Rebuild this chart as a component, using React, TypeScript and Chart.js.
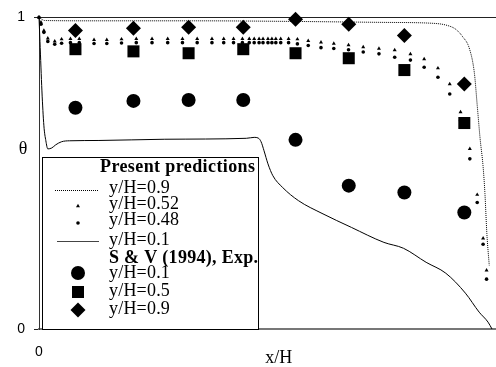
import React, { useEffect, useRef } from 'react';
import { Chart, registerables } from 'chart.js';

Chart.register(...registerables);

// ---- data (x = x/H, y = theta) ----
const expX = [0.76, 1.97, 3.12, 4.26, 5.35, 6.46, 7.62, 8.87];
const expTheta01 = [0.71, 0.732, 0.735, 0.735, 0.607, 0.46, 0.438, 0.374];
const expTheta05 = [0.898, 0.891, 0.885, 0.898, 0.885, 0.869, 0.831, 0.661];
const expTheta09 = [0.958, 0.965, 0.968, 0.968, 0.994, 0.978, 0.942, 0.786];

const predX09 = [0, 0.12, 1.25, 3.3, 5.35, 7.19, 8.22, 8.52, 8.69, 8.83, 8.98, 9.08, 9.14, 9.2, 9.26, 9.3, 9.34, 9.39];
const predTheta09 = [1, 0.99, 0.989, 0.989, 0.987, 0.984, 0.981, 0.974, 0.962, 0.939, 0.898, 0.821, 0.716, 0.61, 0.524, 0.435, 0.307, 0.204];

const predXMid = [0, 0.041, 0.102, 0.184, 0.328, 0.471, 0.656, 0.84, 1.148, 1.414, 1.721, 2.029, 2.357, 2.684, 2.992, 3.299, 3.607, 3.852, 4.057, 4.242, 4.385, 4.488, 4.59, 4.672, 4.775, 4.857, 4.939, 5.041, 5.205, 5.389, 5.615, 5.881, 6.148, 6.455, 6.762, 7.09, 7.418, 7.746, 8.033, 8.32, 8.566, 8.791, 8.985, 9.139, 9.262, 9.334];
const predTheta052 = [1, 0.984, 0.958, 0.933, 0.923, 0.93, 0.931, 0.931, 0.928, 0.928, 0.93, 0.931, 0.931, 0.931, 0.931, 0.931, 0.931, 0.931, 0.931, 0.931, 0.931, 0.931, 0.931, 0.931, 0.931, 0.931, 0.931, 0.931, 0.931, 0.93, 0.925, 0.92, 0.916, 0.911, 0.905, 0.9, 0.895, 0.882, 0.866, 0.837, 0.786, 0.696, 0.578, 0.431, 0.291, 0.188];
const predTheta048 = [1, 0.978, 0.952, 0.923, 0.914, 0.917, 0.919, 0.919, 0.916, 0.916, 0.918, 0.919, 0.919, 0.919, 0.919, 0.919, 0.919, 0.919, 0.919, 0.919, 0.919, 0.919, 0.919, 0.919, 0.919, 0.919, 0.919, 0.919, 0.919, 0.915, 0.91, 0.903, 0.9, 0.896, 0.889, 0.883, 0.872, 0.863, 0.84, 0.808, 0.754, 0.668, 0.546, 0.406, 0.272, 0.16];

const predX01 = [0, 0.02, 0.061, 0.102, 0.143, 0.184, 0.266, 0.348, 0.471, 0.635, 1.25, 2.623, 4.324, 4.488, 4.57, 4.631, 4.693, 4.775, 4.877, 5.082, 5.41, 5.902, 6.516, 7.193, 7.602, 8.074, 8.484, 8.893, 9.18, 9.365, 9.447];
const predTheta01 = [1, 0.923, 0.764, 0.652, 0.604, 0.578, 0.581, 0.591, 0.601, 0.604, 0.605, 0.609, 0.612, 0.615, 0.613, 0.601, 0.572, 0.53, 0.492, 0.454, 0.412, 0.371, 0.326, 0.278, 0.259, 0.214, 0.179, 0.115, 0.054, 0.022, 0];

const xTicks = [0];
const yTicks = [0, 1];
const xTitle = 'x/H';
const yTitle = 'θ';
const legendPredTitle = 'Present predictions';
const legendExpTitle = 'S & V (1994), Exp.';
const predLabels = ['y/H=0.9', 'y/H=0.52', 'y/H=0.48', 'y/H=0.1'];
const expLabels = ['y/H=0.1', 'y/H=0.5', 'y/H=0.9'];

const pts = (xs: number[], ys: number[]) => xs.map((x, i) => ({ x, y: ys[i] }));

function marker(ctx: CanvasRenderingContext2D, style: string, x: number, y: number, r: number) {
  ctx.beginPath();
  if (style === 'circle') {
    ctx.arc(x, y, r, 0, Math.PI * 2);
  } else if (style === 'rect') {
    const s = r * Math.SQRT1_2;
    ctx.rect(x - s, y - s, 2 * s, 2 * s);
  } else if (style === 'rectRot') {
    ctx.moveTo(x, y - r);
    ctx.lineTo(x + r, y);
    ctx.lineTo(x, y + r);
    ctx.lineTo(x - r, y);
    ctx.closePath();
  } else if (style === 'triangle') {
    ctx.moveTo(x, y - r);
    ctx.lineTo(x + r * 0.866, y + r * 0.5);
    ctx.lineTo(x - r * 0.866, y + r * 0.5);
    ctx.closePath();
  }
  ctx.fillStyle = '#000';
  ctx.fill();
}

const overlayPlugin = {
  id: 'overlay',
  afterDraw(chart: any) {
    const ctx: any = chart.ctx;
    ctx.save();
    // y title
    ctx.fillStyle = '#000';
    ctx.font = '18px "Liberation Serif"';
    ctx.textAlign = 'center';
    ctx.textBaseline = 'middle';
    ctx.fillText(yTitle, 23, 149);

    // legend box
    const bx = 42, by = 157, bw = 216, bh = 172;
    ctx.fillStyle = '#fff';
    ctx.fillRect(bx, by, bw, bh);
    ctx.strokeStyle = '#000';
    ctx.lineWidth = 1;
    ctx.strokeRect(bx + 0.5, by + 0.5, bw, bh);

    ctx.fillStyle = '#000';
    ctx.textAlign = 'left';
    ctx.font = 'bold 18px "Liberation Serif"';
    ctx.letterSpacing = '0.4px';
    ctx.fillText(legendPredTitle, 100, 167);
    ctx.letterSpacing = '0.3px';
    ctx.fillText(legendExpTitle, 109, 258);

    ctx.letterSpacing = '0.2px';
    ctx.font = '18px "Liberation Serif"';
    const predY = [188, 204, 220, 240];
    predLabels.forEach((t, i) => ctx.fillText(t, 109, predY[i]));
    const expY = [273, 291, 309];
    expLabels.forEach((t, i) => ctx.fillText(t, 109, expY[i]));
    ctx.letterSpacing = '0px';

    // pred samples
    ctx.strokeStyle = '#000';
    ctx.lineWidth = 1;
    ctx.setLineDash([1, 1]);
    ctx.beginPath();
    ctx.moveTo(55, 190.5);
    ctx.lineTo(99, 190.5);
    ctx.stroke();
    ctx.setLineDash([]);
    marker(ctx, 'triangle', 78, 206, 2.3);
    marker(ctx, 'circle', 78, 223, 1.8);
    ctx.strokeStyle = '#444';
    ctx.beginPath();
    ctx.moveTo(57, 241.5);
    ctx.lineTo(99, 241.5);
    ctx.stroke();

    marker(ctx, 'circle', 78, 273, 7);
    marker(ctx, 'rect', 78, 292, 8.5);
    marker(ctx, 'rectRot', 78, 310, 7.5);
    ctx.restore();
  },
};

export default function App() {
  const ref = useRef<HTMLCanvasElement | null>(null);
  useEffect(() => {
    if (!ref.current) return;
    const scatterDs = (label: string, data: any[], style: string, r: number) => ({
      label,
      data,
      showLine: false,
      pointStyle: style,
      pointRadius: r,
      pointBorderWidth: 0,
      pointBackgroundColor: '#000',
      pointBorderColor: '#000',
      clip: false as any,
    });
    const chart = new Chart(ref.current, {
      type: 'scatter',
      data: {
        datasets: [
          scatterDs('S&V y/H=0.1', pts(expX, expTheta01), 'circle', 7),
          scatterDs('S&V y/H=0.5', pts(expX, expTheta05), 'rect', 8.5),
          scatterDs('S&V y/H=0.9', pts(expX, expTheta09), 'rectRot', 7.5),
          scatterDs('y/H=0.52', pts(predXMid, predTheta052), 'triangle', 2.3),
          scatterDs('y/H=0.48', pts(predXMid, predTheta048), 'circle', 1.8),
          {
            label: 'y/H=0.9',
            data: pts(predX09, predTheta09),
            showLine: true,
            borderColor: '#000',
            borderWidth: 1,
            borderDash: [1, 1],
            pointRadius: 0,
            cubicInterpolationMode: 'monotone',
            clip: false as any,
          },
          {
            label: 'y/H=0.1',
            data: pts(predX01, predTheta01),
            showLine: true,
            borderColor: '#000',
            borderWidth: 1,
            pointRadius: 0,
            cubicInterpolationMode: 'monotone',
            clip: false as any,
          },
        ],
      },
      options: {
        animation: false,
        responsive: false,
        devicePixelRatio: 1,
        layout: { padding: { top: 16, left: 0, right: 0, bottom: 0 } },
        plugins: { legend: { display: false }, tooltip: { enabled: false } },
        scales: {
          x: {
            type: 'linear',
            min: 0,
            max: 10,
            afterBuildTicks: (s: any) => {
              s.ticks = xTicks.map((v) => ({ value: v }));
            },
            afterFit: (s: any) => {
              s.height = 38;
            },
            grid: { display: false, drawTicks: false },
            border: { display: true, color: '#777', width: 2 },
            ticks: {
              padding: 15,
              color: '#000',
              maxRotation: 0,
              font: { family: 'Liberation Sans', size: 14 },
            },
            title: {
              display: true,
              text: xTitle,
              color: '#000',
              font: { family: 'Liberation Serif', size: 18, lineHeight: 1 },
              padding: { top: 0, bottom: 0 },
            },
          },
          y: {
            type: 'linear',
            min: 0,
            max: 1,
            afterBuildTicks: (s: any) => {
              s.ticks = yTicks.map((v) => ({ value: v }));
            },
            afterFit: (s: any) => {
              s.width = 39;
            },
            grid: { color: '#222', lineWidth: 1, drawTicks: true, tickLength: 5 },
            border: { display: true, color: '#333', width: 1 },
            ticks: {
              padding: 9,
              color: '#000',
              font: { family: 'Liberation Sans', size: 14 },
            },
          },
        },
      },
      plugins: [overlayPlugin],
    } as any);
    return () => chart.destroy();
  }, []);

  return (
    <div
      style={{
        position: 'fixed',
        left: 0,
        top: 0,
        width: 496,
        height: 367,
        overflow: 'hidden',
        background: '#fff',
      }}
    >
      <canvas ref={ref} width={527} height={367} style={{ display: 'block' }} />
    </div>
  );
}
